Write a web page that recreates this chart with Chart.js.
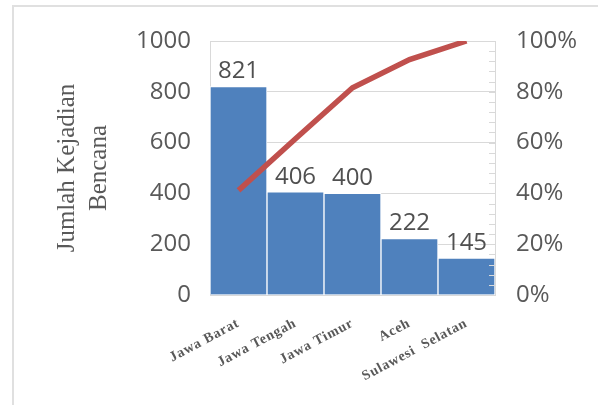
<!DOCTYPE html>
<html>
<head>
<meta charset="utf-8">
<script src="https://cdn.jsdelivr.net/npm/chart.js@4.4.0/dist/chart.umd.min.js"></script>
<style>
    body { margin: 0; background: #fff; overflow: hidden; }
    .frame { position: absolute; left: 12px; top: 5px; width: 700px; height: 500px; border: 2px solid #e0e0e0; }
    #chart { position: absolute; left: 0; top: 0; }
</style>
</head>
<body>
<div class="frame"></div>
<canvas id="chart" width="598" height="405"></canvas>
<script>
const provinces = ['Jawa Barat', 'Jawa Tengah', 'Jawa Timur', 'Aceh', 'Sulawesi  Selatan'];
const counts = [821, 406, 400, 222, 145];
const cumulativePct = [41.2, 61.5, 81.6, 92.7, 100];

const tickColor = '#595959';
const gridColor = '#d9d9d9';

// value labels above each bar
const barLabels = {
    id: 'barLabels',
    afterDatasetsDraw(chart) {
        const ctx = chart.ctx;
        const meta = chart.getDatasetMeta(1);
        ctx.save();
        ctx.font = '24px "Open Sans"';
        ctx.fillStyle = '#505050';
        ctx.textAlign = 'center';
        ctx.textBaseline = 'middle';
        meta.data.forEach((bar, i) => {
            ctx.fillText(counts[i], bar.x, bar.y - 15);
        });
        ctx.restore();
    }
};

// small inward ticks on the right edge of the plot
const minorTicks = {
    id: 'minorTicks',
    afterDatasetsDraw(chart) {
        const ctx = chart.ctx;
        const scale = chart.scales.y1;
        const right = chart.chartArea.right;
        ctx.save();
        ctx.strokeStyle = gridColor;
        ctx.lineWidth = 1;
        for (let v = 0; v <= 100; v += 4) {
            const y = Math.round(scale.getPixelForValue(v)) + 0.5;
            ctx.beginPath();
            ctx.moveTo(right - 6, y);
            ctx.lineTo(right, y);
            ctx.stroke();
        }
        ctx.restore();
    }
};

// category labels are spaced out a little
const spacedLabels = {
    id: 'spacedLabels',
    afterLayout(chart) {
        const scale = chart.scales.x;
        if (scale._spaced) return;
        const orig = scale.drawLabels.bind(scale);
        scale.drawLabels = (area) => {
            chart.ctx.save();
            chart.ctx.letterSpacing = '0.8px';
            orig(area);
            chart.ctx.restore();
        };
        scale._spaced = true;
    }
};

new Chart(document.getElementById('chart'), {
    data: {
        labels: provinces,
        datasets: [
            {
                type: 'line',
                data: cumulativePct,
                yAxisID: 'y1',
                borderColor: '#C0504D',
                borderWidth: 5.5,
                pointRadius: 0,
                tension: 0,
                order: 0
            },
            {
                type: 'bar',
                data: counts,
                yAxisID: 'y',
                backgroundColor: '#4F81BD',
                borderColor: '#ffffff',
                borderWidth: 1,
                barPercentage: 1,
                categoryPercentage: 1,
                order: 1
            }
        ]
    },
    options: {
        responsive: false,
        animation: false,
        layout: { padding: { top: 41, left: 0, right: 0, bottom: 0 } },
        plugins: {
            legend: { display: false },
            tooltip: { enabled: false }
        },
        scales: {
            x: {
                grid: { display: false },
                border: { display: false },
                ticks: {
                    autoSkip: false,
                    minRotation: 28,
                    maxRotation: 28,
                    padding: 12,
                    color: tickColor,
                    font: { family: 'Liberation Serif', size: 14, weight: 'bold' }
                },
                afterFit(scale) { scale.height = 110; }
            },
            y: {
                position: 'left',
                min: 0,
                max: 1000,
                grid: { color: gridColor, drawTicks: false },
                border: { display: true, color: gridColor },
                ticks: {
                    stepSize: 200,
                    padding: 19,
                    color: tickColor,
                    font: { family: 'Open Sans', size: 24 },
                    callback: v => String(v)
                },
                title: {
                    display: true,
                    text: ['Jumlah Kejadian', 'Bencana'],
                    color: tickColor,
                    font: { family: 'Liberation Serif', size: 25, lineHeight: 1.3 },
                    padding: { top: 51, bottom: 0 }
                },
                afterFit(scale) { scale.width = 210; }
            },
            y1: {
                position: 'right',
                min: 0,
                max: 100,
                grid: { drawOnChartArea: false, drawTicks: false },
                border: { display: true, color: gridColor },
                ticks: {
                    stepSize: 20,
                    padding: 21,
                    color: tickColor,
                    font: { family: 'Open Sans', size: 24 },
                    callback: v => v + '%'
                },
                afterFit(scale) { scale.width = 103; }
            }
        }
    },
    plugins: [barLabels, minorTicks, spacedLabels]
});
</script>
</body>
</html>
